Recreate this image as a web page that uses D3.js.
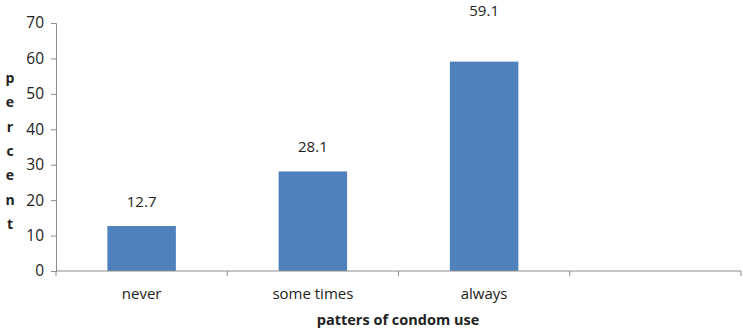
<!DOCTYPE html>
<html>
<head>
<meta charset="utf-8">
<script src="https://cdn.jsdelivr.net/npm/d3@7"></script>
<style>
  body { margin: 0; background: #fff; }
  svg text { font-family: "Open Sans", "Liberation Sans", sans-serif; fill: #222; }
  .axis path, .axis line { stroke: #8c8c8c; }
</style>
</head>
<body>
<div id="chart"></div>
<script>
// data
const categories = ["never", "some times", "always", ""];
const percents = [12.7, 28.1, 59.1, null];
const yTicks = [0, 10, 20, 30, 40, 50, 60, 70];

const width = 743, height = 332;
const margin = { top: 23, right: 2, bottom: 61, left: 56 };
const plotW = width - margin.left - margin.right;
const plotH = height - margin.top - margin.bottom;

const svg = d3.select("#chart").append("svg")
    .attr("width", width)
    .attr("height", height);

const g = svg.append("g")
    .attr("transform", `translate(${margin.left},${margin.top})`);

const x = d3.scaleBand().domain(categories).range([0, plotW]).padding(0);
const xBar = d3.scaleBand().domain(categories).range([0, plotW])
    .paddingInner(0.6).paddingOuter(0.3);
const y = d3.scaleLinear().domain([0, 70]).range([plotH, 0]);

// bars
const rows = categories.map((c, i) => ({ cat: c, value: percents[i] }))
    .filter(d => d.value != null);

g.selectAll(".bar")
    .data(rows)
    .enter().append("rect")
    .attr("class", "bar")
    .attr("x", d => xBar(d.cat))
    .attr("y", d => y(d.value))
    .attr("width", xBar.bandwidth())
    .attr("height", d => y(0) - y(d.value))
    .attr("fill", "#4f81bd");

// value labels (the top one sits higher in the original)
g.selectAll(".val")
    .data(rows)
    .enter().append("text")
    .attr("class", "val")
    .attr("x", d => xBar(d.cat) + xBar.bandwidth() / 2)
    .attr("y", d => d.value > 50 ? y(70) - 7 : y(d.value) - 19)
    .attr("text-anchor", "middle")
    .style("font-size", "15px")
    .text(d => d.value.toFixed(1));

// y axis
const yAxis = g.append("g")
    .attr("class", "axis")
    .call(d3.axisLeft(y).tickValues(yTicks).tickSize(5).tickPadding(7));
yAxis.selectAll("text").style("font-size", "15.5px");

// x axis with ticks at category boundaries
const xAxis = g.append("g")
    .attr("class", "axis")
    .attr("transform", `translate(0,${plotH})`);
xAxis.append("line")
    .attr("x1", 0).attr("x2", plotW)
    .attr("stroke", "#8c8c8c");
xAxis.selectAll(".tk")
    .data(categories.map(c => x(c)).concat([plotW]))
    .enter().append("line")
    .attr("class", "tk")
    .attr("x1", d => d).attr("x2", d => d)
    .attr("y1", 0).attr("y2", 5)
    .attr("stroke", "#8c8c8c");
xAxis.selectAll(".cat")
    .data(categories)
    .enter().append("text")
    .attr("x", d => x(d) + x.bandwidth() / 2)
    .attr("y", 28)
    .attr("text-anchor", "middle")
    .style("font-size", "15px")
    .text(d => d);

// axis titles
svg.append("text")
    .attr("x", 398)
    .attr("y", 325)
    .attr("text-anchor", "middle")
    .style("font-size", "14.5px")
    .style("font-weight", "bold")
    .text("patters of condom use");

const yTitle = "percent".split("");
svg.selectAll(".ylet")
    .data(yTitle)
    .enter().append("text")
    .attr("class", "ylet")
    .attr("x", 10)
    .attr("y", (d, i) => 83 + i * 24.3)
    .attr("text-anchor", "middle")
    .style("font-size", "14px")
    .style("font-weight", "bold")
    .text(d => d);
</script>
</body>
</html>
